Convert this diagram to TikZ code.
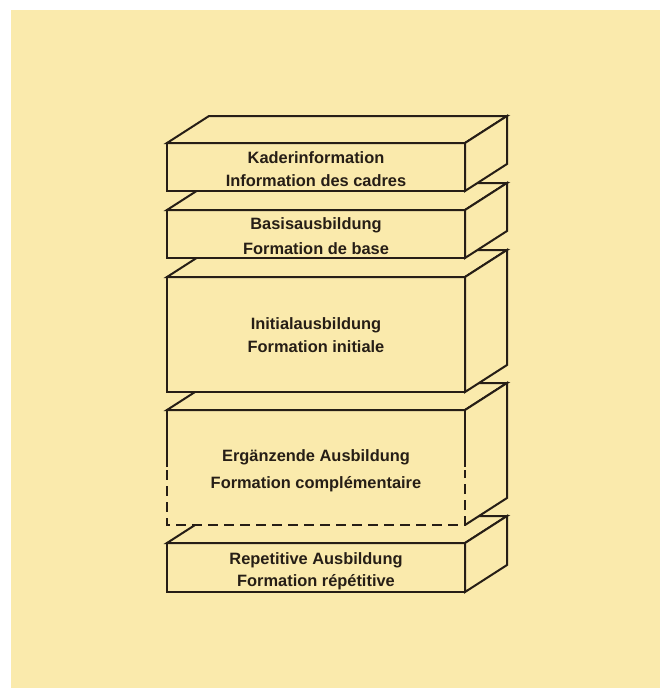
\documentclass[tikz,border=0pt]{standalone}
\usepackage{fontspec}
\setmainfont{Liberation Sans}
\definecolor{paper}{RGB}{250,234,172}
\definecolor{ink}{RGB}{38,30,22}
\tikzset{
  boxline/.style={draw=ink,line width=2pt,line join=miter,fill=paper},
  inkline/.style={draw=ink,line width=2pt,line join=miter},
  lbl/.style={font=\fontsize{16.4}{20}\selectfont\bfseries,text=ink,inner sep=0pt,anchor=base}
}
\newcommand{\slabbox}[2]{%
  \path[boxline] (167,#1) -- (465,#1) -- (465,#2) -- (167,#2) -- cycle;
  \path[boxline] (167,#1) -- ++(42,-27) -- ++(298,0) -- (465,#1) -- cycle;
  \path[boxline] (465,#1) -- ++(42,-27) -- ++(0,#2-#1) -- (465,#2) -- cycle;
}
\begin{document}
\begin{tikzpicture}[x=1pt,y=-1pt]
\useasboundingbox (0,0) rectangle (660,688);
\fill[white] (0,0) rectangle (660,688);
\fill[paper] (11,10) rectangle (660,688);
% box 5
\slabbox{543}{592}
% box 4 (dashed bottom)
\fill[paper] (167,410) -- (465,410) -- (465,525) -- (167,525) -- cycle;
\path[boxline] (167,410) -- ++(42,-27) -- ++(298,0) -- (465,410) -- cycle;
\fill[paper] (465,410) -- ++(42,-27) -- ++(0,115) -- (465,525) -- cycle;
\path[inkline] (465,410) -- ++(42,-27) -- ++(0,115) -- (465,525);
\path[inkline] (167,467) -- (167,410) -- (465,410) -- (465,467);
\path[inkline,dash pattern=on 10pt off 6pt] (167,470) -- (167,525) -- (465,525) -- (465,470);
% box 3
\slabbox{277}{392}
% box 2
\slabbox{210}{258}
% box 1
\slabbox{143}{191}
% labels
\node[lbl] (k1) at (316,163) {Kaderinformation};
\node[lbl] (k2) at (316,186) {Information des cadres};
\node[lbl] (b1) at (316,229) {Basisausbildung};
\node[lbl] (b2) at (316,254) {Formation de base};
\node[lbl] (i1) at (316,329) {Initialausbildung};
\node[lbl] (i2) at (316,352) {Formation initiale};
\node[lbl] (e1) at (316,461) {Ergänzende Ausbildung};
\node[lbl] (e2) at (316,488) {Formation complémentaire};
\node[lbl] (r1) at (316,564) {Repetitive Ausbildung};
\node[lbl] (r2) at (316,586) {Formation répétitive};
\end{tikzpicture}
\end{document}
